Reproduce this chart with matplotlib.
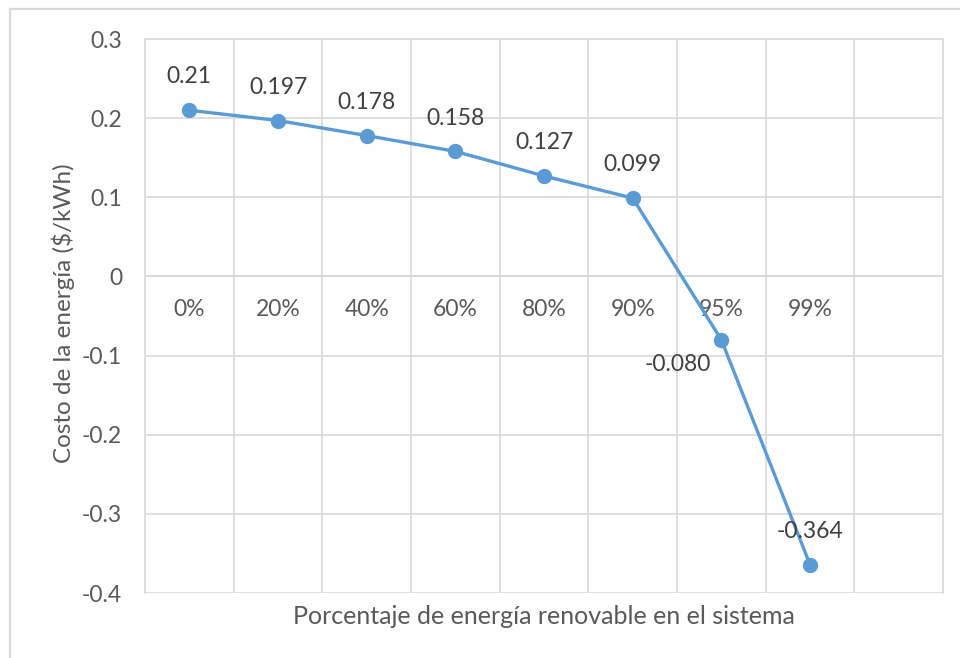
import matplotlib
matplotlib.use('Agg')
import matplotlib.pyplot as plt
from matplotlib.patches import Rectangle
import numpy as np

# Cost of energy vs. share of renewables
categories = ['0%', '20%', '40%', '60%', '80%', '90%', '95%', '99%']
costs = [0.21, 0.197, 0.178, 0.158, 0.127, 0.099, -0.080, -0.364]
cost_labels = ['0.21', '0.197', '0.178', '0.158', '0.127', '0.099', '-0.080', '-0.364']
n_slots = 9  # Excel-style axis keeps one empty slot on the right

plt.rcParams['font.family'] = ['Lato', 'DejaVu Sans']

line_color = '#5B9BD5'
grid_color = '#D9D9D9'
text_color = '#595959'
label_color = '#404040'

fig = plt.figure(figsize=(9.6, 6.58), dpi=100)
ax = fig.add_axes([145/960, 1 - 593/658, 798/960, 554/658])

x = np.arange(len(categories))
ax.plot(x, costs, color=line_color, lw=2.4, marker='o', ms=10,
        markerfacecolor=line_color, markeredgecolor=line_color, zorder=3)

# data labels: above the point, except the 95% one which sits low-left
for i, (v, txt) in enumerate(zip(costs, cost_labels)):
    offset = (-31, -18) if i == 6 else (0, 24)
    ax.annotate(txt, (x[i], v), xytext=offset, textcoords='offset points',
                ha='center', va='center', fontsize=16.5, color=label_color)

ax.set_xlim(-0.5, n_slots - 0.5)
ax.set_ylim(-0.4, 0.3)
ax.set_yticks(np.arange(-0.4, 0.31, 0.1))
ax.set_yticklabels(['-0.4', '-0.3', '-0.2', '-0.1', '0', '0.1', '0.2', '0.3'])

ax.set_xticks(x)
ax.set_xticklabels(categories)
ax.set_xticks(np.arange(-0.5, n_slots), minor=True)

ax.grid(True, axis='y', which='major', color=grid_color, lw=1.2)
ax.grid(True, axis='x', which='minor', color=grid_color, lw=1.2)
ax.set_axisbelow(True)

# category axis crosses at zero
ax.spines['bottom'].set_position(('data', 0))
for s in ax.spines.values():
    s.set_color(grid_color)
    s.set_linewidth(1.2)

ax.tick_params(axis='x', which='both', length=0, pad=16.5, labelsize=16.5, colors=text_color)
ax.tick_params(axis='y', length=0, pad=16.5, labelsize=16.5, colors=text_color)

fig.text(63/960, 1 - 313/658, 'Costo de la energía ($/kWh)', rotation=90,
         ha='center', va='center', fontsize=17.5, color=text_color)
fig.text(544/960, 1 - 616/658, 'Porcentaje de energía renovable en el sistema',
         ha='center', va='center', fontsize=18, color=text_color)

# chart frame
fig.patches.append(Rectangle((10/960, -0.5), 2, 1.5 - 9/658, transform=fig.transFigure,
                             fill=False, edgecolor=grid_color, lw=1.6))

fig.savefig('out.png', dpi=100)
